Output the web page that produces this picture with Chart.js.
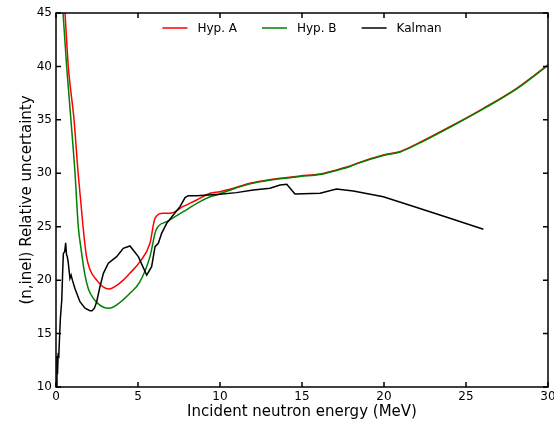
<!DOCTYPE html>
<html>
<head>
<meta charset="utf-8">
<script src="https://cdn.jsdelivr.net/npm/chart.js@4"></script>
<style>
  html, body { margin: 0; padding: 0; background: #fff; }
</style>
</head>
<body>
<canvas id="uncChart" width="554" height="421"></canvas>
<script>
// valores
const seriesNames = ['Hyp. A', 'Hyp. B', 'Kalman'];
const seriesColors = ['#ff0000', '#008000', '#000000'];

const hypAEnergy = [0.4, 0.55, 0.75, 1.1, 1.35, 1.65, 1.85, 2.07, 2.48, 2.85, 3.25, 3.7, 4.1, 4.5, 5.12, 5.73, 6.04, 6.54, 6.95, 7.76, 8.58, 9.39, 10.0, 10.6, 11.83, 13.0, 14.88, 16.1, 16.9, 17.93, 18.33, 19.96, 21.0, 22.0, 24.02, 26.06, 28.09, 30.0];
const hypAValues = [48.75, 45, 40, 35, 30, 25, 22.3, 21.0, 20.0, 19.4, 19.17, 19.5, 20.0, 20.64, 21.73, 23.45, 25.8, 26.26, 26.26, 26.9, 27.5, 28.13, 28.28, 28.5, 29.06, 29.4, 29.75, 29.93, 30.24, 30.68, 30.93, 31.71, 32.05, 32.75, 34.36, 36.08, 37.95, 40.15];

const hypBEnergy = [0.3, 0.43, 0.65, 0.91, 1.16, 1.36, 1.52, 1.75, 1.97, 2.28, 2.6, 2.89, 3.25, 3.7, 4.51, 5.12, 5.73, 6.1, 6.75, 7.76, 8.78, 9.39, 9.8, 10.6, 11.83, 13.0, 14.88, 16.1, 16.9, 17.93, 18.33, 19.96, 21.0, 22.0, 24.02, 26.06, 28.09, 30.0];
const hypBValues = [47.95, 45, 40, 35, 30, 25, 23.0, 20.6, 19.2, 18.3, 17.75, 17.46, 17.37, 17.68, 18.77, 19.86, 22.2, 24.69, 25.47, 26.41, 27.34, 27.81, 27.97, 28.42, 29.01, 29.35, 29.7, 29.88, 30.19, 30.63, 30.88, 31.66, 32.0, 32.7, 34.31, 36.03, 37.9, 40.1];

const kalmanEnergy = [0.02, 0.06, 0.09, 0.13, 0.17, 0.22, 0.27, 0.35, 0.41, 0.45, 0.53, 0.59, 0.64, 0.69, 0.75, 0.85, 0.92, 1.0, 1.16, 1.46, 1.77, 2.07, 2.2, 2.35, 2.48, 2.68, 2.89, 3.19, 3.7, 4.1, 4.51, 5.02, 5.53, 5.83, 6.04, 6.24, 6.44, 6.75, 7.15, 7.56, 7.87, 8.07, 8.58, 10.0, 11.0, 12.03, 13.05, 13.66, 14.07, 14.57, 16.1, 17.1, 18.13, 19.96, 22.0, 24.02, 26.06];
const kalmanValues = [10.05, 12.9, 11.2, 13.0, 12.9, 14.8, 16.5, 18.1, 20.95, 22.5, 22.67, 23.5, 22.4, 22.2, 21.6, 20.17, 20.48, 20.0, 19.2, 17.98, 17.37, 17.14, 17.14, 17.4, 17.98, 19.38, 20.64, 21.58, 22.2, 22.98, 23.2, 22.2, 20.48, 21.26, 23.13, 23.45, 24.38, 25.32, 26.1, 26.88, 27.72, 27.9, 27.9, 28.03, 28.19, 28.44, 28.6, 28.9, 28.97, 28.06, 28.13, 28.53, 28.34, 27.8, 26.8, 25.79, 24.76];

const xTicks = [0, 5, 10, 15, 20, 25, 30];
const yTicks = [10, 15, 20, 25, 30, 35, 40, 45];

const FONT = '"DejaVu Sans", sans-serif';

function toPoints(xs, ys) {
    return xs.map((x, i) => ({ x: x, y: ys[i] }));
}

/**
 * Moldura com ticks para dentro, nos quatro lados
 */
const framePlugin = {
    id: 'frame',
    afterDatasetsDraw(chart) {
        const { ctx, chartArea: a, scales } = chart;
        const len = 5;
        ctx.save();
        ctx.strokeStyle = '#000';
        ctx.lineWidth = 1.5;
        ctx.beginPath();
        xTicks.forEach(v => {
            const px = scales.x.getPixelForValue(v);
            ctx.moveTo(px, a.bottom); ctx.lineTo(px, a.bottom - len);
            ctx.moveTo(px, a.top); ctx.lineTo(px, a.top + len);
        });
        yTicks.forEach(v => {
            const py = scales.y.getPixelForValue(v);
            ctx.moveTo(a.left, py); ctx.lineTo(a.left + len, py);
            ctx.moveTo(a.right, py); ctx.lineTo(a.right - len, py);
        });
        ctx.stroke();
        ctx.strokeRect(a.left, a.top, a.right - a.left, a.bottom - a.top);
        ctx.restore();
    }
};

/**
 * Legenda dentro da área do gráfico, sem moldura
 */
const legendPlugin = {
    id: 'insideLegend',
    afterDraw(chart) {
        const { ctx, chartArea: a } = chart;
        const lineLen = 25, textGap = 10, itemGap = 25;
        ctx.save();
        ctx.font = '12px ' + FONT;
        const widths = chart.data.datasets.map(ds => ctx.measureText(ds.label).width);
        let total = itemGap * (widths.length - 1);
        widths.forEach(w => { total += lineLen + textGap + w; });
        let x = (a.left + a.right) / 2 - total / 2;
        const y = a.top + 15;
        chart.data.datasets.forEach((ds, i) => {
            ctx.strokeStyle = ds.borderColor;
            ctx.lineWidth = 1.5;
            ctx.beginPath();
            ctx.moveTo(x, y);
            ctx.lineTo(x + lineLen, y);
            ctx.stroke();
            ctx.fillStyle = '#000';
            ctx.textBaseline = 'middle';
            ctx.fillText(ds.label, x + lineLen + textGap, y + 1);
            x += lineLen + textGap + widths[i] + itemGap;
        });
        ctx.restore();
    }
};

const ctx = document.getElementById('uncChart').getContext('2d');
new Chart(ctx, {
    type: 'line',
    data: {
        datasets: [{
            label: seriesNames[0],
            data: toPoints(hypAEnergy, hypAValues),
            borderColor: seriesColors[0],
            borderWidth: 1.5,
            pointRadius: 0,
            cubicInterpolationMode: 'monotone',
            order: 3
        }, {
            label: seriesNames[1],
            data: toPoints(hypBEnergy, hypBValues),
            borderColor: seriesColors[1],
            borderWidth: 1.5,
            pointRadius: 0,
            cubicInterpolationMode: 'monotone',
            order: 2
        }, {
            label: seriesNames[2],
            data: toPoints(kalmanEnergy, kalmanValues),
            borderColor: seriesColors[2],
            borderWidth: 1.5,
            pointRadius: 0,
            tension: 0,
            order: 1
        }]
    },
    options: {
        responsive: false,
        animation: false,
        layout: { padding: { top: 13, right: 6, left: 0, bottom: 0 } },
        plugins: {
            legend: { display: false },
            tooltip: { enabled: false }
        },
        scales: {
            x: {
                type: 'linear',
                min: 0,
                max: 30,
                afterBuildTicks: s => { s.ticks = xTicks.map(v => ({ value: v })); },
                afterFit: s => { s.height = 34; s.paddingLeft = 0; s.paddingRight = 0; },
                grid: { display: false, drawTicks: false },
                border: { display: false },
                ticks: { color: '#000', font: { family: FONT, size: 12 }, padding: 3, maxRotation: 0, autoSkip: false },
                title: {
                    display: true,
                    text: 'Incident neutron energy (MeV)',
                    color: '#000',
                    font: { family: FONT, size: 15 },
                    padding: { top: 0, bottom: 0 }
                }
            },
            y: {
                type: 'linear',
                min: 10,
                max: 45,
                afterBuildTicks: s => { s.ticks = yTicks.map(v => ({ value: v })); },
                afterFit: s => { s.width = 56; s.paddingTop = 0; s.paddingBottom = 0; },
                grid: { display: false, drawTicks: false },
                border: { display: false },
                ticks: { color: '#000', font: { family: FONT, size: 12 }, padding: 4, autoSkip: false },
                title: {
                    display: true,
                    text: '(n,inel) Relative uncertainty',
                    color: '#000',
                    font: { family: FONT, size: 15 },
                    padding: { top: 18, bottom: 18 }
                }
            }
        }
    },
    plugins: [framePlugin, legendPlugin]
});
</script>
</body>
</html>
